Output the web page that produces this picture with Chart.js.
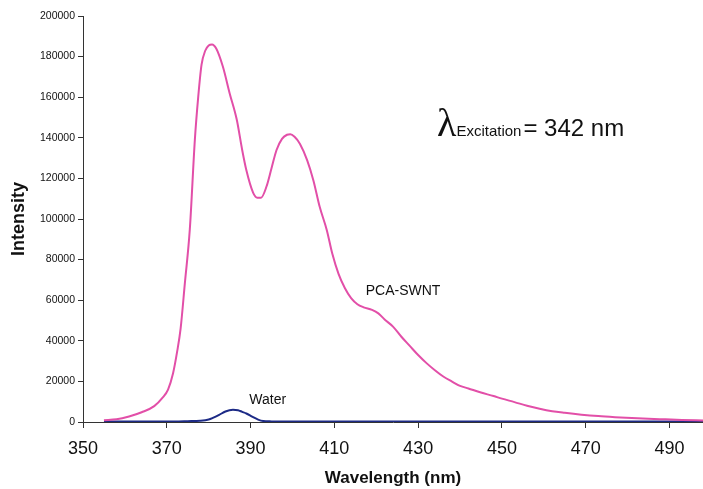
<!DOCTYPE html>
<html>
<head>
<meta charset="utf-8">
<script src="https://cdn.jsdelivr.net/npm/chart.js@4/dist/chart.umd.min.js"></script>
<style>
  html, body { margin: 0; padding: 0; background: #fff; }
  #wrap { width: 703px; height: 489px; position: relative; }
</style>
</head>
<body>
<div id="wrap"><canvas id="chart"></canvas></div>
<script>
// wavelength (nm) / intensity
const pcaWavelength = [355, 358, 361, 364, 367, 369, 370.3, 371.5, 372.5, 373.3, 374.3, 375.5, 376.7, 377.5, 378.3, 379.2, 380, 380.8, 381.8, 383.4, 385, 386.7, 388, 389, 390.6, 391.6, 392.5, 393.8, 395, 396.2, 397.5, 398.7, 399.5, 400.5, 401.8, 403.5, 405, 406.5, 408.2, 409.5, 411, 412.5, 414, 415.5, 417, 419, 420.5, 422, 424, 426, 428, 430, 432, 434, 436, 438, 440, 442, 445, 448, 450, 453, 456, 459, 462, 465, 469, 473, 477, 481, 485, 489, 493, 498];
const pcaIntensity = [900, 1300, 2700, 4800, 7800, 12000, 16000, 24000, 35000, 46000, 68000, 95000, 139000, 160000, 176000, 183000, 185500, 186000, 184000, 175000, 162000, 149000, 134000, 124000, 113000, 110500, 110500, 116000, 125000, 134000, 139500, 141500, 141800, 140500, 137000, 129000, 119000, 106000, 94500, 83000, 73000, 66000, 61000, 58000, 56500, 55200, 53500, 50500, 47000, 42000, 37500, 33000, 29000, 25500, 22400, 20000, 17800, 16500, 14500, 12800, 11500, 9800, 8000, 6500, 5300, 4500, 3600, 2900, 2400, 2000, 1600, 1300, 1000, 800];

const waterWavelength = [355, 360, 365, 370, 375, 378, 380, 381, 382.5, 384, 385.8, 387, 388, 389, 390.5, 391.8, 393, 395, 400, 410, 420, 430, 440, 450, 460, 470, 480, 490, 498];
const waterIntensity = [300, 200, 300, 200, 400, 600, 1200, 2000, 3500, 5200, 6000, 5800, 5000, 4200, 2500, 1200, 500, 300, 200, 200, 200, 200, 200, 200, 200, 200, 200, 200, 200];

const xTicks = [350, 370, 390, 410, 430, 450, 470, 490];
const yTicks = [0, 20000, 40000, 60000, 80000, 100000, 120000, 140000, 160000, 180000, 200000];

const seriesNames = ['PCA-SWNT', 'Water'];

function zip(xs, ys) {
    return xs.map((x, i) => ({ x: x, y: ys[i] }));
}

const axisColor = '#333';
const textColor = '#111';
const sans = '"Liberation Sans", Arial, sans-serif';

// labels written on the plot
const notes = {
    id: 'notes',
    afterDraw(chart) {
        const ctx = chart.ctx;
        const x = chart.scales.x;
        const y = chart.scales.y;
        ctx.save();
        ctx.fillStyle = textColor;
        ctx.textAlign = 'center';
        ctx.textBaseline = 'middle';
        ctx.font = '14px ' + sans;
        ctx.fillText(seriesNames[0], x.getPixelForValue(426.4), y.getPixelForValue(64300));
        ctx.fillText(seriesNames[1], x.getPixelForValue(394.1), y.getPixelForValue(11000));

        // lambda excitation note
        ctx.textAlign = 'left';
        ctx.textBaseline = 'alphabetic';
        let bx = 437;
        const by = 136;
        ctx.font = '40px "Liberation Serif", serif';
        ctx.fillText('λ', bx, by);
        bx += ctx.measureText('λ').width;
        ctx.font = '15px ' + sans;
        ctx.fillText('Excitation', bx, by);
        bx += ctx.measureText('Excitation').width + 2;
        ctx.font = '24px ' + sans;
        ctx.fillText('= 342 nm', bx, by);
        ctx.restore();
    }
};

const ctx = document.getElementById('chart').getContext('2d');
new Chart(ctx, {
    type: 'line',
    data: {
        datasets: [
            {
                label: seriesNames[0],
                data: zip(pcaWavelength, pcaIntensity),
                borderColor: '#e24fa8',
                borderWidth: 2,
                pointRadius: 0,
                cubicInterpolationMode: 'monotone',
                fill: false,
            },
            {
                label: seriesNames[1],
                data: zip(waterWavelength, waterIntensity),
                borderColor: '#1c2a86',
                borderWidth: 2,
                pointRadius: 0,
                cubicInterpolationMode: 'monotone',
                fill: false,
            },
        ],
    },
    options: {
        responsive: true,
        maintainAspectRatio: false,
        animation: false,
        layout: { padding: { top: 16, right: 0, left: 0, bottom: 0 } },
        plugins: {
            legend: { display: false },
            tooltip: { enabled: false },
        },
        scales: {
            x: {
                type: 'linear',
                min: 350,
                max: 498,
                afterBuildTicks: (scale) => { scale.ticks = xTicks.map(v => ({ value: v })); },
                afterFit: (scale) => { scale.height = 67; },
                grid: { drawOnChartArea: false, drawTicks: true, tickLength: 6, color: axisColor },
                border: { display: true, color: axisColor, width: 1 },
                ticks: {
                    color: textColor,
                    padding: 10,
                    maxRotation: 0,
                    autoSkip: false,
                    font: { family: sans, size: 18 },
                },
                title: {
                    display: true,
                    text: 'Wavelength (nm)',
                    color: textColor,
                    padding: { top: 0, bottom: 0 },
                    font: { family: sans, size: 17, weight: 'bold' },
                },
            },
            y: {
                min: 0,
                max: 200000,
                afterBuildTicks: (scale) => { scale.ticks = yTicks.map(v => ({ value: v })); },
                afterFit: (scale) => { scale.width = 83; },
                grid: { drawOnChartArea: false, drawTicks: true, tickLength: 5, color: axisColor },
                border: { display: true, color: axisColor, width: 1 },
                ticks: {
                    color: textColor,
                    padding: 3,
                    autoSkip: false,
                    font: { family: sans, size: 10.5 },
                    callback: (v) => String(v),
                },
                title: {
                    display: true,
                    text: 'Intensity',
                    color: textColor,
                    padding: { top: 8, bottom: 0 },
                    font: { family: sans, size: 18, weight: 'bold' },
                },
            },
        },
    },
    plugins: [notes],
});
</script>
</body>
</html>
